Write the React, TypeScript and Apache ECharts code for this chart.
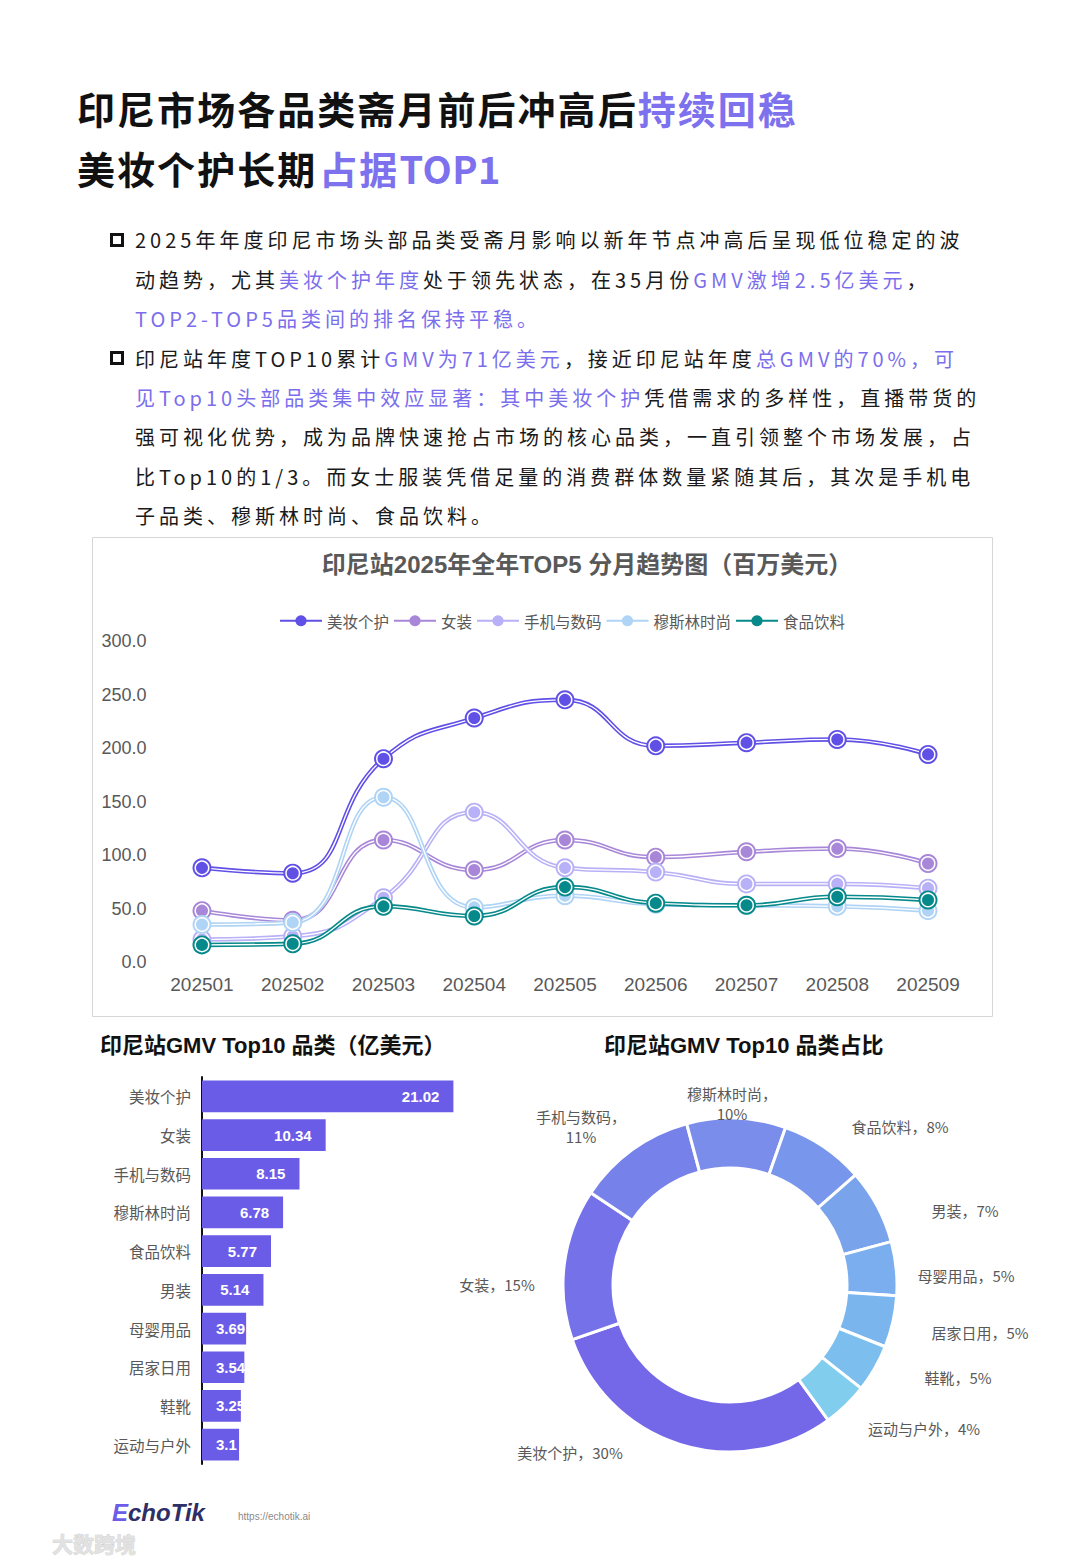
import React, { useEffect, useRef } from "react";
import * as echarts from "echarts";

// ---------- data ----------
const months = ["202501", "202502", "202503", "202504", "202505", "202506", "202507", "202508", "202509"];
const trendNames = ["美妆个护", "女装", "手机与数码", "穆斯林时尚", "食品饮料"];
const beautyTrend = [88, 83, 190, 228, 245, 202, 205, 208, 194];
const womenTrend = [48, 39, 114, 86, 114, 98, 103, 106, 92];
const phoneTrend = [21, 24, 60, 140, 88, 84, 73, 73, 69];
const muslimTrend = [35, 37, 154, 51, 62, 54, 53, 52, 48];
const foodTrend = [16, 17, 52, 43, 70, 55, 53, 61, 58];
const yTicks = { min: 0, max: 300, interval: 50 };

const topCategories = ["美妆个护", "女装", "手机与数码", "穆斯林时尚", "食品饮料", "男装", "母婴用品", "居家日用", "鞋靴", "运动与户外"];
const topGmv = [21.02, 10.34, 8.15, 6.78, 5.77, 5.14, 3.69, 3.54, 3.25, 3.1];

// ---------- styles ----------
const TREND_COLORS = ["#6150E6", "#A887D8", "#B9B1F7", "#B0D4F5", "#06898A"];
const PIE_COLORS = ["#7468E8", "#7572E9", "#7781EA", "#7A8DEA", "#7896EC", "#79A3EB", "#7AAEEF", "#7AB5EE", "#7CBFEE", "#80CDEE"];
const BAR_COLOR = "#6B5CE7";
const HL = "#7B6EEC";
const GRAY = "#595959";
const CHART_FONT = '"Liberation Sans", "Noto Sans CJK SC", sans-serif';
const CJK_FONT = '"Noto Sans CJK SC", "Noto Sans", sans-serif';
const WRAP_LABELS = new Set(["手机与数码", "穆斯林时尚"]);
// label centres for the donut (manually placed in the reference), in category order
const PIE_LABEL_POS: [number, number][] = [
  [570, 1452], [497, 1284], [581, 1126], [732, 1103], [900, 1126],
  [965, 1210], [966, 1275], [980, 1332], [958, 1377], [924, 1428],
];

type Seg = [string, boolean];
const bulletLines: Seg[][] = [
  [["2025年年度印尼市场头部品类受斋月影响以新年节点冲高后呈现低位稳定的波", false]],
  [["动趋势，尤其", false], ["美妆个护年度", true], ["处于领先状态，在35月份", false], ["GMV激增2.5亿美元", true], ["，", false]],
  [["TOP2-TOP5品类间的排名保持平稳。", true]],
  [["印尼站年度TOP10累计", false], ["GMV为71亿美元", true], ["，接近印尼站年度", false], ["总GMV的70%，可", true]],
  [["见Top10头部品类集中效应显著：其中美妆个护", true], ["凭借需求的多样性，直播带货的", false]],
  [["强可视化优势，成为品牌快速抢占市场的核心品类，一直引领整个市场发展，占", false]],
  [["比Top10的1/3。而女士服装凭借足量的消费群体数量紧随其后，其次是手机电", false]],
  [["子品类、穆斯林时尚、食品饮料。", false]],
];
const bulletStarts = [0, 3];

function buildOption(): any {
  const trendData = [beautyTrend, womenTrend, phoneTrend, muslimTrend, foodTrend];
  const lineSeries: any[] = [];
  trendData.forEach((d, i) => {
    const c = TREND_COLORS[i];
    lineSeries.push({
      type: "line", name: trendNames[i], xAxisIndex: 0, yAxisIndex: 0, data: d,
      smooth: 0.5, symbol: "circle", symbolSize: 19,
      lineStyle: { color: c, width: 4.5 }, itemStyle: { color: c },
    });
    lineSeries.push({
      type: "line", name: trendNames[i], xAxisIndex: 0, yAxisIndex: 0, data: d,
      smooth: 0.5, symbol: "circle", symbolSize: 13.5,
      lineStyle: { color: "#ffffff", width: 1.3 },
      itemStyle: { color: c, borderColor: "#ffffff", borderWidth: 1.5 },
    });
  });

  const barData = topGmv.map((v) => ({
    value: v,
    label: v >= 4
      ? { position: "insideRight", distance: 14 }
      : { position: "insideLeft", distance: 14 },
  }));

  const txt = (x: number, y: number, text: string, fill: string, font: string, align = "left") => ({
    type: "text", x, y,
    style: { text, fill, font, align, verticalAlign: "middle", textAlign: align, textVerticalAlign: "middle" },
  });

  return {
    animation: false,
    textStyle: { fontFamily: CHART_FONT },
    legend: {
      data: trendNames,
      left: 279, top: 613, padding: 0,
      itemWidth: 42, itemHeight: 14, itemGap: 4,
      textStyle: { color: GRAY, fontSize: 15.5, fontFamily: CJK_FONT },
    },
    grid: [
      { left: 156.6, top: 641, width: 816.8, height: 321 },
      { left: 202, top: 1077, width: 299, height: 387 },
    ],
    xAxis: [
      {
        gridIndex: 0, type: "category", data: months, boundaryGap: true,
        axisLine: { show: false }, axisTick: { show: false },
        axisLabel: { color: GRAY, fontSize: 19, margin: 13 },
      },
      { gridIndex: 1, type: "value", min: 0, max: 25, show: false },
    ],
    yAxis: [
      {
        gridIndex: 0, type: "value", min: yTicks.min, max: yTicks.max, interval: yTicks.interval,
        axisLine: { show: false }, axisTick: { show: false }, splitLine: { show: false },
        axisLabel: { color: GRAY, fontSize: 18, margin: 10, formatter: (v: number) => v.toFixed(1) },
      },
      {
        gridIndex: 1, type: "category", data: topCategories, inverse: true,
        axisLine: { show: true, lineStyle: { color: "#111111", width: 2 } },
        axisTick: { show: false },
        axisLabel: { color: GRAY, fontSize: 15.5, margin: 11, fontFamily: CJK_FONT },
      },
    ],
    series: [
      ...lineSeries,
      {
        type: "bar", name: "gmv", xAxisIndex: 1, yAxisIndex: 1, data: barData,
        barCategoryGap: "18%",
        itemStyle: { color: BAR_COLOR },
        label: { show: true, color: "#ffffff", fontSize: 15, fontWeight: "bold" },
      },
      {
        type: "pie", name: "share", center: [730, 1285], radius: [117, 167],
        startAngle: -54, clockwise: true, percentPrecision: 0,
        avoidLabelOverlap: false,
        data: topCategories.map((n, i) => ({ name: n, value: topGmv[i], itemStyle: { color: PIE_COLORS[i] } })),
        itemStyle: { borderColor: "#ffffff", borderWidth: 3 },
        label: {
          show: true, position: "outside", color: GRAY, fontSize: 15, lineHeight: 20,
          fontFamily: CJK_FONT, align: "center",
          formatter: (p: any) => `${p.name}，${WRAP_LABELS.has(p.name) ? "\n" : ""}${p.percent}%`,
        },
        labelLine: { show: false, length: 18, length2: 22 },
        labelLayout: (params: any) => {
          const pos = PIE_LABEL_POS[params.dataIndex];
          return { x: pos[0], y: pos[1], align: "center", verticalAlign: "middle" };
        },
      },
    ],
    graphic: [
      {
        type: "rect", shape: { x: 92.5, y: 537.5, width: 900, height: 479 },
        style: { fill: "none", stroke: "#d6d6d6", lineWidth: 1 }, silent: true,
      },
      txt(587, 564, "印尼站2025年全年TOP5 分月趋势图（百万美元）", GRAY, `bold 24px ${CHART_FONT}`, "center"),
      txt(100, 1045, "印尼站GMV Top10 品类（亿美元）", "#111111", `bold 22px ${CHART_FONT}`),
      txt(604, 1045, "印尼站GMV Top10 品类占比", "#111111", `bold 22px ${CHART_FONT}`),
      {
        type: "text", x: 112, y: 1512,
        style: {
          text: "{e|E}{r|choTik}",
          rich: {
            e: { fill: "#6D5CE8", font: `italic 900 24px ${CHART_FONT}` },
            r: { fill: "#2D2F66", font: `italic 900 24px ${CHART_FONT}` },
          },
          align: "left", verticalAlign: "middle", textAlign: "left", textVerticalAlign: "middle",
        },
      },
      txt(238, 1516, "https://echotik.ai", "#8a8a8a", `10px ${CHART_FONT}`),
      {
        type: "text", x: 52, y: 1543,
        style: {
          text: "大数跨境", fill: "#e2e2e2", stroke: "#c8c8c8", lineWidth: 0.6,
          font: `bold 21px ${CJK_FONT}`, align: "left", verticalAlign: "middle",
          textAlign: "left", textVerticalAlign: "middle",
        },
      },
    ],
  };
}

export default function App() {
  const ref = useRef<HTMLDivElement>(null);
  useEffect(() => {
    if (!ref.current) return;
    const chart = echarts.init(ref.current, null, { renderer: "svg" });
    chart.setOption(buildOption());
    return () => chart.dispose();
  }, []);

  const lineH = 39.4;
  return (
    <div style={{ position: "absolute", left: 0, top: 0, width: 1080, height: 1560, background: "#ffffff", overflow: "hidden" }}>
      <div ref={ref} style={{ position: "absolute", left: 0, top: 0, width: 1080, height: 1560 }} />
      <div style={{ position: "absolute", left: 77, top: 78, fontFamily: CJK_FONT, fontWeight: 700, fontSize: 38, lineHeight: "60px", letterSpacing: 2.05, color: "#111111", whiteSpace: "nowrap" }}>
        <div>印尼市场各品类斋月前后冲高后<span style={{ color: "#7D71EE" }}>持续回稳</span></div>
        <div>美妆个护长期<span style={{ color: "#7D71EE", marginLeft: 2 }}>占据<span style={{ letterSpacing: 0.5 }}>TOP1</span></span></div>
      </div>
      {bulletStarts.map((li) => (
        <div key={li} style={{ position: "absolute", left: 110, top: 233 + li * lineH, width: 14, height: 14, border: "3px solid #111111", boxSizing: "border-box" }} />
      ))}
      <div style={{ position: "absolute", left: 135, top: 220.3, fontFamily: CJK_FONT, fontSize: 20, lineHeight: `${lineH}px`, letterSpacing: 4, color: "#1a1a1a", whiteSpace: "nowrap" }}>
        {bulletLines.map((segs, i) => (
          <div key={i}>
            {segs.map(([t, hl], j) => (
              <span key={j} style={{ color: hl ? HL : "#1a1a1a" }}>{t}</span>
            ))}
          </div>
        ))}
      </div>
    </div>
  );
}
